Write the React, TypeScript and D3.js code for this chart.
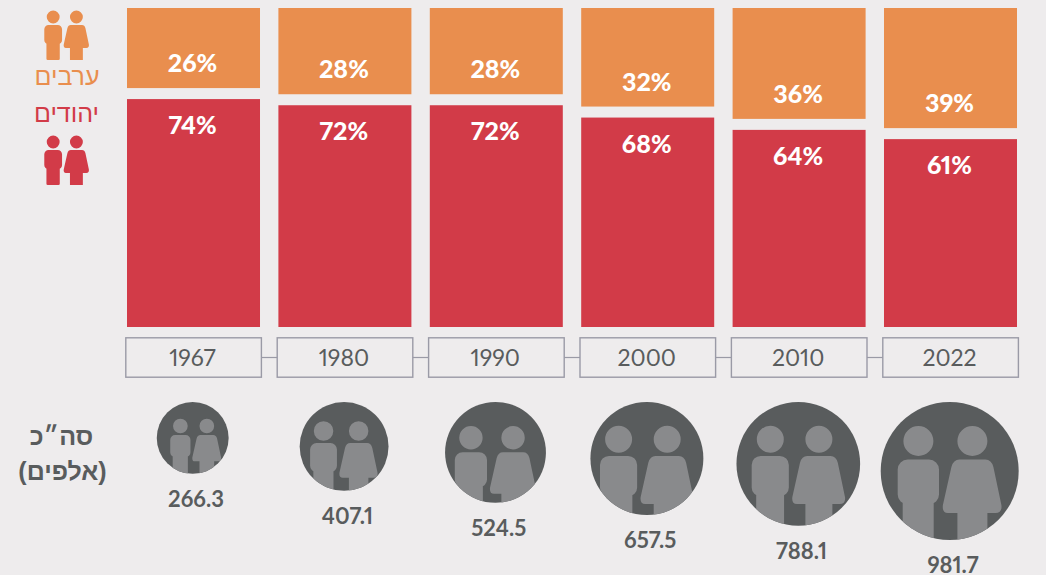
import React from "react";
import * as d3 from "d3";

const years = ["1967", "1980", "1990", "2000", "2010", "2022"];
const arabShare = [26, 28, 28, 32, 36, 39];
const jewishShare = [74, 72, 72, 68, 64, 61];
const totals = [266.3, 407.1, 524.5, 657.5, 788.1, 981.7];
const totalLabels = ["266.3", "407.1", "524.5", "657.5", "788.1", "981.7"];
const arabLabel = "ערבים";
const jewishLabel = "יהודים";
const totalTitle = ["סה״כ", "(אלפים)"];

const W = 1046, H = 575;
const BG = "#EEECED", ORANGE = "#E98E4E", RED = "#D23B48", GRAY = "#595C5D", ICON = "#898A8C", BOX = "#9A9AA6";
const LATIN = "Lato, 'Liberation Sans', sans-serif";
const HEB = "'Liberation Sans', 'DejaVu Sans', sans-serif";
const PNUM: React.CSSProperties = { fontVariantNumeric: "proportional-nums" };

const x = d3.scaleBand<string>().domain(years).range([127, 1017]).paddingInner(0.1215);
const h = d3.scaleLinear().domain([0, 100]).range([0, 308]);
const rScale = d3.scaleSqrt().domain([0, 981.7]).range([0, 69]);

const BOTTOM = 327, CIRCLE_TOP = 402;
// Placement of the people icon inside each total circle
const iconScale = [0.49, 0.65, 0.78, 0.9, 0.9, 1];
const iconDx = [0.9, -3, -3.5, -4, -3.7, -4.3];
const iconHeadY = [426, 431, 437.7, 439.3, 439.3, 441];

// Person pair, unit: 2022-size icon, origin at the midpoint between the heads
const pairPath = (() => {
  const p = d3.path();
  const rr = (x0: number, y0: number, x1: number, y1: number, r: number) => {
    p.moveTo(x0 + r, y0);
    p.arcTo(x1, y0, x1, y1, r);
    p.arcTo(x1, y1, x0, y1, r);
    p.arcTo(x0, y1, x0, y0, r);
    p.arcTo(x0, y0, x1, y0, r);
    p.closePath();
  };
  const head = (cx: number, cy: number, r: number) => {
    p.moveTo(cx + r, cy);
    p.arc(cx, cy, r, 0, Math.PI * 2);
    p.closePath();
  };
  head(-27, 0, 15);
  rr(-47.7, 18.5, -6.4, 63.5, 10);
  rr(-42.7, 40, -11.7, 100, 3);
  head(27, 0, 15);
  p.moveTo(14, 18.5);
  p.lineTo(40, 18.5);
  p.quadraticCurveTo(46, 18.5, 48, 26);
  p.lineTo(56, 64);
  p.quadraticCurveTo(57, 72, 50, 72);
  p.lineTo(2.5, 72);
  p.quadraticCurveTo(-3.5, 72, -2.5, 64);
  p.lineTo(6, 26);
  p.quadraticCurveTo(8, 18.5, 14, 18.5);
  p.closePath();
  p.rect(12, 60, 30, 40);
  return p.toString();
})();

export default function App() {
  return (
    <svg width={W} height={H} viewBox={`0 0 ${W} ${H}`} style={{ position: "fixed", left: 0, top: 0, display: "block", background: BG }}>
      <defs>
        {years.map((y, i) => (
          <clipPath id={`c${y}`} key={y}>
            <circle cx={x(y)! + x.bandwidth() / 2 - 0.8} cy={CIRCLE_TOP + rScale(totals[i])} r={rScale(totals[i])} />
          </clipPath>
        ))}
      </defs>

      {years.map((y, i) => {
        const bx = x(y)!, bw = x.bandwidth();
        const redH = h(jewishShare[i]), orH = h(arabShare[i]);
        const redTop = BOTTOM - redH;
        const orBottom = redTop - 11;
        const cx = bx + bw / 2;
        const ccx = cx - 0.8;
        const r = rScale(totals[i]);
        const cy = CIRCLE_TOP + r;
        return (
          <g key={y}>
            <rect x={bx} y={orBottom - orH} width={bw} height={orH} fill={ORANGE} />
            <rect x={bx} y={redTop} width={bw} height={redH} fill={RED} />
            <text x={cx - 1} y={orBottom - 16} textAnchor="middle" fontFamily={LATIN} fontWeight={900} fontSize={25} style={PNUM} fill="#fff">{arabShare[i]}%</text>
            <text x={cx - 1} y={redTop + 35} textAnchor="middle" fontFamily={LATIN} fontWeight={900} fontSize={25} style={PNUM} fill="#fff">{jewishShare[i]}%</text>

            <rect x={bx - 1.2} y={337.8} width={bw + 2.6} height={39.4} fill="none" stroke={BOX} strokeWidth={1.4} />
            {i < years.length - 1 && (
              <line x1={bx + bw + 1.4} x2={x(years[i + 1])! - 1.2} y1={357.5} y2={357.5} stroke={BOX} strokeWidth={1.2} />
            )}
            <text x={cx - 1} y={366} textAnchor="middle" fontFamily={LATIN} fontWeight={400} fontSize={23} style={PNUM} fill={GRAY}>{y}</text>

            <circle cx={ccx} cy={cy} r={r} fill={GRAY} />
            <g clipPath={`url(#c${y})`}>
              <path d={pairPath} fill={ICON} transform={`translate(${ccx + iconDx[i]},${iconHeadY[i]}) scale(${iconScale[i]})`} />
            </g>
            <text x={cx + 2.5} y={CIRCLE_TOP + 2 * r + 33} textAnchor="middle" fontFamily={LATIN} fontWeight={700} fontSize={22} style={PNUM} fill={GRAY}>{totalLabels[i]}</text>
          </g>
        );
      })}

      <path d={pairPath} fill={ORANGE} transform="translate(64.8,17) scale(0.43)" />
      <text x={67} y={85} textAnchor="middle" direction="rtl" fontFamily={HEB} fontSize={25} fill={ORANGE}>{arabLabel}</text>
      <text x={66.5} y={122} textAnchor="middle" direction="rtl" fontFamily={HEB} fontSize={25} fill={RED}>{jewishLabel}</text>
      <path d={pairPath} fill={RED} transform="translate(64.8,142) scale(0.43)" />

      <text x={61.5} y={445} textAnchor="middle" direction="rtl" fontFamily={HEB} fontWeight={700} fontSize={25} fill={GRAY}>{totalTitle[0]}</text>
      <text x={62.5} y={480} textAnchor="middle" direction="rtl" fontFamily={HEB} fontWeight={700} fontSize={25} fill={GRAY}>{totalTitle[1]}</text>
    </svg>
  );
}
